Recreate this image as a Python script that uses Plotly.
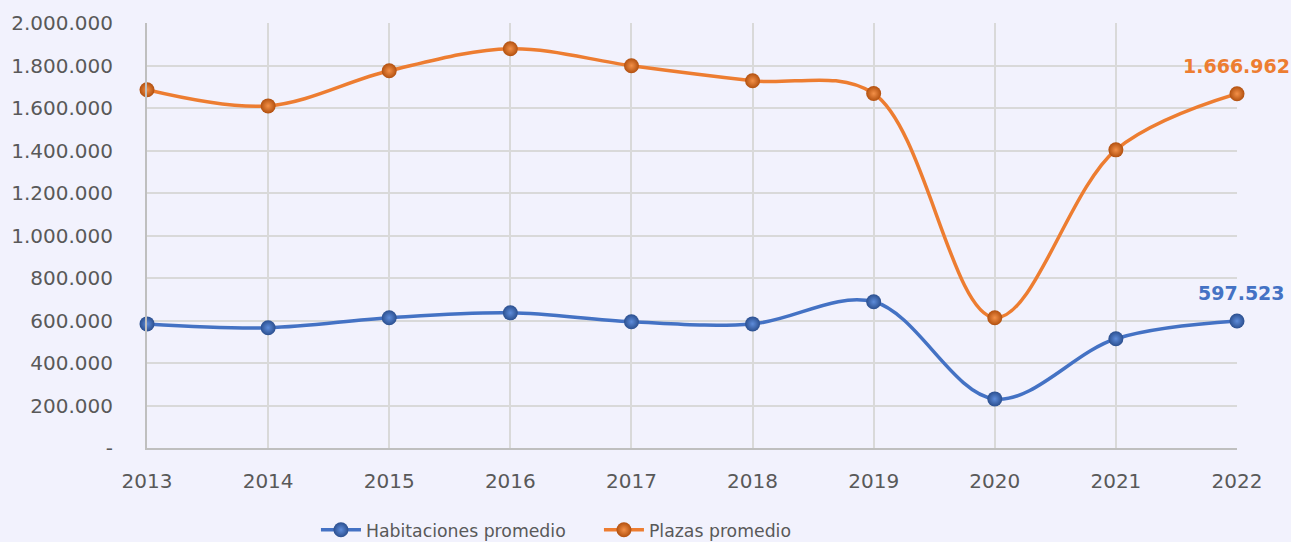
import plotly.graph_objects as go

years = ["2013", "2014", "2015", "2016", "2017", "2018", "2019", "2020", "2021", "2022"]
habitaciones = [584000, 566000, 613000, 636000, 594000, 584000, 688000, 231000, 514000, 597523]
plazas = [1686000, 1610000, 1775000, 1879000, 1799000, 1728000, 1668000, 613000, 1403000, 1666962]
y_ticks = [0, 200000, 400000, 600000, 800000, 1000000, 1200000, 1400000, 1600000, 1800000, 2000000]


def fmt(v):
    return f"{v:,}".replace(",", ".")


y_tick_text = ["-"] + [fmt(v) for v in y_ticks[1:]]

BLUE = "#4472C4"
ORANGE = "#ED7D31"
FONT = "DejaVu Sans"

fig = go.Figure()
series = [("Habitaciones promedio", habitaciones, BLUE, "#2B4F8F", "#5E8CDA", 4),
          ("Plazas promedio", plazas, ORANGE, "#B2500F", "#F39048", -1)]
last = len(years) - 1
for name, vals, col, edge, center, xs in series:
    fig.add_trace(go.Scatter(
        x=years, y=vals, name=name, mode="lines+markers",
        line=dict(color=col, width=3.5, shape="spline", smoothing=1.0),
        marker=dict(size=15, color=edge, gradient=dict(type="radial", color=center),
                    line=dict(width=0)),
        cliponaxis=False,
    ))
    fig.add_annotation(
        x=last, y=vals[last], xref="x", yref="y", text=fmt(vals[last]), showarrow=False,
        xanchor="center", yanchor="middle", yshift=28, xshift=xs,
        font=dict(family=FONT, size=19, color=col, weight="bold"),
    )

fig.update_layout(
    width=1291, height=542,
    paper_bgcolor="#F2F2FD", plot_bgcolor="#F2F2FD",
    margin=dict(l=147, r=54, t=23, b=94, autoexpand=False),
    font=dict(family=FONT, size=19, color="#595959"),
    showlegend=True,
    legend=dict(orientation="h", x=0.155, xanchor="left", y=-0.193, yanchor="middle",
                font=dict(size=17.3, color="#595959"), itemwidth=40,
                entrywidth=228, entrywidthmode="pixels",
                traceorder="normal", bgcolor="rgba(0,0,0,0)"),
)
fig.update_xaxes(
    type="category", range=[0, len(years) - 1],
    showgrid=True, gridcolor="#D9D9D9", gridwidth=2,
    showline=True, linecolor="#BFBFBF", linewidth=2,
    ticks="", ticklabelstandoff=14, zeroline=False,
    tickfont=dict(size=20),
)
fig.update_yaxes(
    range=[0, 2000000], tickvals=y_ticks, ticktext=y_tick_text,
    showgrid=True, gridcolor="#D9D9D9", gridwidth=2,
    showline=True, linecolor="#BFBFBF", linewidth=2,
    ticks="", ticklabelstandoff=28, zeroline=False,
    tickfont=dict(size=20),
)

fig.write_html("out.html", config={"displayModeBar": False})

with open("out.html", "r", encoding="utf-8") as f:
    html = f.read()
html = html.replace("<body>", '<body style="margin:0;padding:0;">', 1)
html = html.replace("<head>", "<head><style>html,body{margin:0;padding:0;overflow:hidden;}</style>", 1)
with open("out.html", "w", encoding="utf-8") as f:
    f.write(html)
